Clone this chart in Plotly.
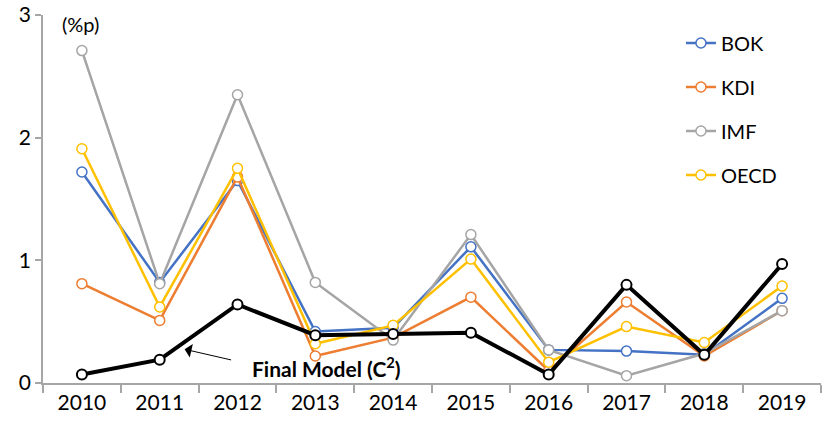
import plotly.graph_objects as go

years = ["2010", "2011", "2012", "2013", "2014", "2015", "2016", "2017", "2018", "2019"]
bok = [1.72, 0.82, 1.65, 0.42, 0.45, 1.11, 0.27, 0.26, 0.23, 0.69]
kdi = [0.81, 0.51, 1.68, 0.22, 0.37, 0.70, 0.10, 0.66, 0.22, 0.59]
imf = [2.71, 0.81, 2.35, 0.82, 0.35, 1.21, 0.27, 0.06, 0.24, 0.59]
oecd = [1.91, 0.62, 1.75, 0.32, 0.47, 1.01, 0.17, 0.46, 0.33, 0.79]
final_model = [0.07, 0.19, 0.64, 0.39, 0.40, 0.41, 0.07, 0.80, 0.23, 0.97]
y_ticks = [0, 1, 2, 3]

series = [("BOK", bok, "#4472C4"), ("KDI", kdi, "#ED7D31"),
          ("IMF", imf, "#A5A5A5"), ("OECD", oecd, "#FFC000")]

FONT = "Lato, 'Open Sans', sans-serif"
fig = go.Figure()
for i, (name, vals, col) in enumerate(series):
    fig.add_trace(go.Scatter(
        x=years, y=vals, name=name, mode="lines+markers",
        line=dict(color=col, width=2.5),
        marker=dict(symbol="circle", size=10, color="white", line=dict(color=col, width=1.5)),
        legendgroup=name,
    ))
fig.add_trace(go.Scatter(
    x=years, y=final_model, name="Final Model", mode="lines+markers",
    line=dict(color="black", width=4),
    marker=dict(symbol="circle", size=10, color="white", line=dict(color="black", width=2)),
    showlegend=False,
))

fig.update_layout(
    width=822, height=428,
    margin=dict(l=43, r=1, t=15, b=45, autoexpand=False),
    paper_bgcolor="white", plot_bgcolor="white",
    font=dict(family=FONT, size=21, color="black"),
    showlegend=True,
    legend=dict(x=0.820, y=0.977, xanchor="left", yanchor="top",
                font=dict(family=FONT, size=20, color="black"),
                tracegroupgap=15, bgcolor="rgba(0,0,0,0)", itemwidth=30),
    xaxis=dict(type="category", showgrid=False, showline=True, linecolor="#A6A6A6", linewidth=1.5,
               ticks="outside", tickson="boundaries", ticklen=8, tickcolor="#A6A6A6", tickwidth=1.5,
               range=[-0.5, 9.5], tickfont=dict(size=21), automargin=False),
    yaxis=dict(range=[0, 3], showgrid=False, showline=True, linecolor="#A6A6A6", linewidth=1.5,
               ticks="outside", ticklen=6, tickcolor="#A6A6A6", tickwidth=1.5,
               tickvals=y_ticks, ticktext=[str(v) for v in y_ticks], zeroline=False,
               tickfont=dict(size=21), automargin=False, ticklabeloverflow="allow"),
    annotations=[
        dict(xref="paper", yref="paper", x=0.022, y=0.975, xanchor="left", yanchor="middle",
             text="(%p)", showarrow=False, font=dict(size=20)),
        dict(x=1.32, y=0.275, xref="x", yref="y", ax=48, ay=11, axref="pixel", ayref="pixel",
             text="", showarrow=True, arrowhead=1, arrowsize=2.3, arrowwidth=1, arrowcolor="black"),
        dict(x=3.14, y=0.13, xref="x", yref="y", text="<b>Final Model (C<sup>2</sup>)</b>",
             showarrow=False, font=dict(size=21)),
    ],
)
fig.write_html("out.html", post_script="document.body.style.margin='0';",
               config={"displayModeBar": False})
